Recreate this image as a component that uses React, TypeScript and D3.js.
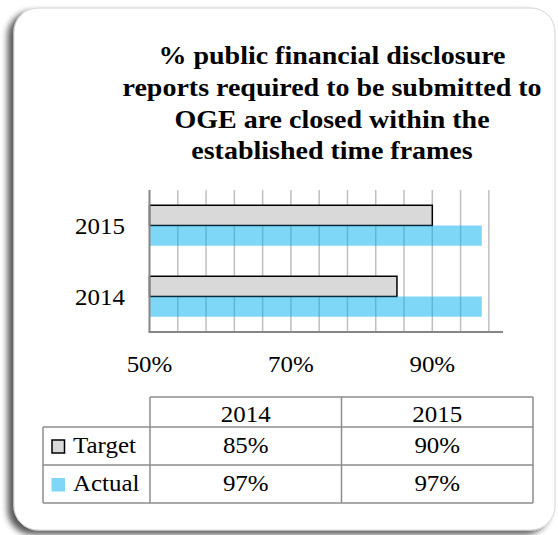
import React from "react";
import * as d3 from "d3";

const categories = ["2014", "2015"];
const seriesNames = ["Target", "Actual"];
const target = [85, 90];
const actual = [97, 97];
const xTicks = [50, 70, 90];
const gridValues = d3.range(54, 100, 4);
const titleLines = [
  "% public financial disclosure",
  "reports required to be submitted to",
  "OGE are closed within the",
  "established time frames",
];

const W = 558;
const H = 535;
const FONT = "'Liberation Serif', serif";
const BLUE = "#00B0F0";
const GRAY = "#d9d9d9";
const SX = 1.11;

function T(props: {
  x: number;
  y: number;
  anchor?: "start" | "middle" | "end";
  size: number;
  sx?: number;
  bold?: boolean;
  children: React.ReactNode;
}) {
  const { x, y, anchor = "start", size, sx = SX, bold, children } = props;
  return (
    <text
      transform={`translate(${x},${y}) scale(${sx},1)`}
      textAnchor={anchor}
      fontFamily={FONT}
      fontSize={size}
      fontWeight={bold ? "bold" : "normal"}
      fill="#000"
    >
      {children}
    </text>
  );
}

export default function App() {
  const plot = { left: 149.5, right: 503, top: 190, bottom: 332 };
  const x = d3.scaleLinear().domain([50, 100]).range([plot.left, plot.right]);
  const y = d3
    .scaleBand<string>()
    .domain([...categories].reverse())
    .range([plot.top, plot.bottom])
    .paddingInner(0.43)
    .paddingOuter(0.215);
  const sub = d3
    .scaleBand<string>()
    .domain(seriesNames)
    .range([0, y.bandwidth()]);

  const table = { left: 43, colStart: 150, right: 533, top: 397, r1: 427, r2: 465, bottom: 503 };
  const col = d3.scaleBand<string>().domain(categories).range([table.colStart, table.right]);
  const rowBase = [422, 453, 491];
  const lineColor = "#8c8c8c";

  return (
    <svg width={W} height={H} style={{ position: "absolute", left: 0, top: 0 }}>
      <defs>
        <filter id="shadow" x="-10%" y="-10%" width="120%" height="120%">
          <feDropShadow dx={-6} dy={4} stdDeviation={3} floodColor="#000" floodOpacity={0.65} />
        </filter>
      </defs>
      <rect x={0} y={0} width={W} height={H} fill="#fff" />
      <rect
        x={14}
        y={8}
        width={541}
        height={522}
        rx={24}
        fill="#fff"
        stroke="#d4d4d4"
        strokeWidth={1}
        filter="url(#shadow)"
      />

      {/* Title */}
      {titleLines.map((t, i) => (
        <T key={i} x={332} y={64 + i * 31.8} anchor="middle" size={25} sx={1.12} bold>
          {t}
        </T>
      ))}

      {/* Gridlines */}
      {gridValues.map((v) => (
        <line
          key={v}
          x1={x(v)}
          x2={x(v)}
          y1={plot.top}
          y2={plot.bottom}
          stroke="#bfbfbf"
          strokeWidth={1.5}
        />
      ))}

      {/* Bars */}
      {categories.map((c, i) => (
        <g key={c}>
          <rect
            x={x(50)}
            y={(y(c) as number) + (sub("Target") as number)}
            width={x(target[i]) - x(50)}
            height={sub.bandwidth()}
            fill={GRAY}
            stroke="#000"
            strokeWidth={1.5}
          />
          <rect
            x={x(50)}
            y={(y(c) as number) + (sub("Actual") as number)}
            width={x(actual[i]) - x(50)}
            height={sub.bandwidth()}
            fill={BLUE}
            fillOpacity={0.5}
          />
        </g>
      ))}

      {/* Axes */}
      <line x1={plot.left} x2={plot.left} y1={plot.top} y2={plot.bottom} stroke="#868686" strokeWidth={2} />
      <line x1={plot.left - 1} x2={plot.right} y1={plot.bottom} y2={plot.bottom} stroke="#868686" strokeWidth={2} />

      {categories.map((c) => (
        <T key={c} x={125} y={(y(c) as number) + y.bandwidth() / 2 + 8} anchor="end" size={22.5}>
          {c}
        </T>
      ))}

      {xTicks.map((v) => (
        <T key={v} x={x(v)} y={372} anchor="middle" size={22.5}>
          {v}%
        </T>
      ))}

      {/* Data table */}
      <g stroke={lineColor} strokeWidth={1.5} fill="none">
        <line x1={table.colStart} x2={table.right} y1={table.top} y2={table.top} />
        <line x1={table.left} x2={table.right} y1={table.r1} y2={table.r1} />
        <line x1={table.left} x2={table.right} y1={table.r2} y2={table.r2} />
        <line x1={table.left} x2={table.right} y1={table.bottom} y2={table.bottom} />
        <line x1={table.left} x2={table.left} y1={table.r1} y2={table.bottom} />
        {categories.map((c) => (
          <line key={c} x1={col(c)} x2={col(c)} y1={table.top} y2={table.bottom} />
        ))}
        <line x1={table.right} x2={table.right} y1={table.top} y2={table.bottom} />
      </g>

      {categories.map((c) => (
        <T key={"h" + c} x={(col(c) as number) + col.bandwidth() / 2} y={rowBase[0]} anchor="middle" size={22.5}>
          {c}
        </T>
      ))}

      {/* Legend keys */}
      <rect x={52} y={440} width={12.5} height={13} fill={GRAY} stroke="#000" strokeWidth={1.5} />
      <rect x={51.5} y={478} width={13.5} height={13.5} fill={BLUE} fillOpacity={0.5} />
      <T x={73} y={rowBase[1]} size={22.5}>
        {seriesNames[0]}
      </T>
      <T x={73} y={rowBase[2]} size={22.5}>
        {seriesNames[1]}
      </T>

      {categories.map((c, i) => (
        <g key={"v" + c}>
          <T x={(col(c) as number) + col.bandwidth() / 2} y={rowBase[1]} anchor="middle" size={22.5}>
            {target[i]}%
          </T>
          <T x={(col(c) as number) + col.bandwidth() / 2} y={rowBase[2]} anchor="middle" size={22.5}>
            {actual[i]}%
          </T>
        </g>
      ))}
    </svg>
  );
}
